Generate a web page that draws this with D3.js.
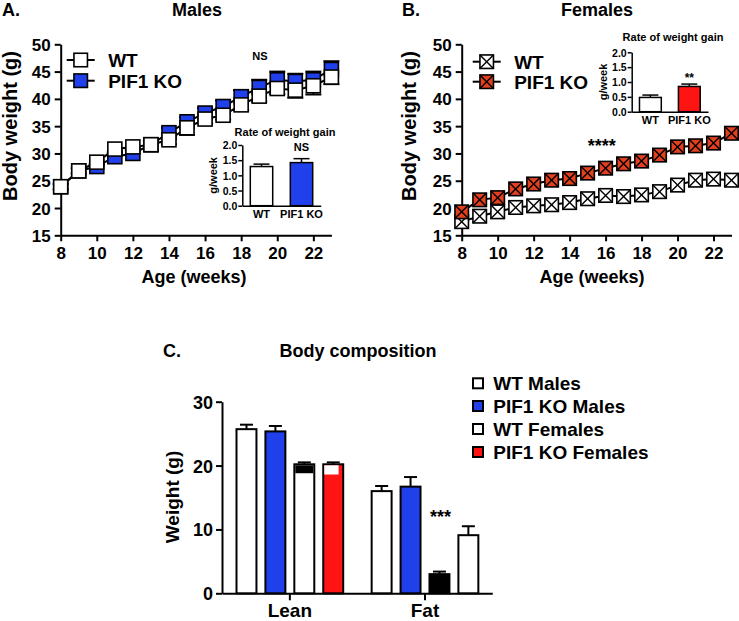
<!DOCTYPE html>
<html><head><meta charset="utf-8">
<script src="https://cdn.jsdelivr.net/npm/d3@7"></script>
<style>body{margin:0;background:#fff}svg{display:block}text{font-family:"Liberation Sans",Arial,sans-serif;font-weight:bold;fill:#000}</style>
</head><body>
<script>
// ---------- DATA ----------
const weeks = [8,9,10,11,12,13,14,15,16,17,18,19,20,21,22,23];
const maleWT     = [23.9,26.8,28.4,30.8,31.2,31.6,32.5,34.7,36.3,37.0,38.9,40.5,41.9,41.6,42.4,44.0];
const maleWTErr  = [0.5,0.5,0.5,0.5,0.6,1.2,0.8,1.3,0.8,0.8,1.0,1.0,1.0,1.4,1.6,1.3];
const maleKO     = [23.9,26.8,27.6,29.4,30.0,31.6,33.8,35.8,37.4,38.6,40.4,42.1,43.5,43.2,43.5,45.4];
const maleKOErr  = [0.5,0.5,0.5,0.6,0.6,0.7,0.9,0.8,0.9,1.1,1.2,1.4,1.5,1.4,1.5,1.5];
const femaleWT   = [17.5,18.5,19.3,20.1,20.4,20.6,21.0,21.7,22.3,22.1,22.4,23.0,24.2,25.1,25.3,25.1];
const femaleKO   = [19.3,21.5,21.9,23.5,24.4,25.1,25.4,26.4,27.3,28.1,28.6,29.7,31.2,31.4,31.9,33.7];
const xTicks = [8,10,12,14,16,18,20,22];
const yTicks = [15,20,25,30,35,40,45,50];

const rateGroups = ["WT","PIF1 KO"];
const maleRate = [1.29,1.42];
const maleRateErr = [0.08,0.13];
const femaleRate = [0.48,0.85];
const femaleRateErr = [0.08,0.08];
const rateTicks = [0,0.5,1,1.5,2];

const compGroups = ["Lean","Fat"];
const compSeries = ["WT Males","PIF1 KO Males","WT Females","PIF1 KO Females"];
const leanVals = [25.7,25.35,20.2,20.2];
const leanErr  = [0.7,0.85,0.3,0.3];
const leanCapLow = [null,null,18.8,18.6];
const fatVals  = [16.0,16.7,3.0,9.1];
const fatErr   = [0.8,1.5,0.4,1.4];
const compTicks = [0,10,20,30];

// ---------- STYLE ----------
const BLUE = "#1f40ea", RED_M = "#e2401e", RED = "#ff1414";

const svg = d3.select("body").append("svg").attr("width",739).attr("height",621);

function txt(x,y,s,size,anchor="middle",rot=0){
  const t = svg.append("text").attr("font-size",size).attr("text-anchor",anchor).text(s);
  if(rot) t.attr("transform",`translate(${x},${y}) rotate(${rot})`);
  else t.attr("x",x).attr("y",y);
  return t;
}
function styleAxis(g,fs,sw){
  g.selectAll("path,line").attr("stroke","#000").attr("stroke-width",sw);
  g.selectAll("text").attr("font-size",fs).attr("fill","#000").style("font-family",'"Liberation Sans",Arial,sans-serif').style("font-weight","bold");
}
function marker(g,cx,cy,s,fill,cross){
  g.append("rect").attr("x",cx-s/2).attr("y",cy-s/2).attr("width",s).attr("height",s)
   .attr("fill",fill).attr("stroke","#000").attr("stroke-width",1.6);
  if(cross){
    g.append("line").attr("x1",cx-s/2).attr("y1",cy-s/2).attr("x2",cx+s/2).attr("y2",cy+s/2).attr("stroke","#000").attr("stroke-width",1.4);
    g.append("line").attr("x1",cx-s/2).attr("y1",cy+s/2).attr("x2",cx+s/2).attr("y2",cy-s/2).attr("stroke","#000").attr("stroke-width",1.4);
  }
}

// ---------- generic line panel ----------
function linePanel(opt){
  const x = d3.scaleLinear().domain([8,23]).range(opt.xr);
  const y = d3.scaleLinear().domain([15,50]).range([235.3,44.3]);
  const gx = svg.append("g").attr("transform",`translate(0,${y(15)})`)
    .call(d3.axisBottom(x).tickValues(xTicks).tickSize(6).tickPadding(6).tickSizeOuter(0));
  styleAxis(gx,17,2);
  const gy = svg.append("g").attr("transform",`translate(${x(8)},0)`)
    .call(d3.axisLeft(y).tickValues(yTicks).tickSize(6).tickPadding(4).tickSizeOuter(0));
  styleAxis(gy,17,2);
  gy.selectAll("text").attr("dy","0.36em");
  const line = d3.line().x((d,i)=>x(weeks[i])).y(d=>y(d));
  opt.series.forEach(s=>{
    const g = svg.append("g");
    if(s.err){
      weeks.forEach((w,i)=>{
        const y0=y(s.vals[i]), y1=y(s.vals[i]+s.dir*s.err[i]);
        g.append("line").attr("x1",x(w)).attr("x2",x(w)).attr("y1",y0).attr("y2",y1).attr("stroke","#000").attr("stroke-width",2);
        g.append("line").attr("x1",x(w)-8).attr("x2",x(w)+8).attr("y1",y1).attr("y2",y1).attr("stroke","#000").attr("stroke-width",2);
      });
    }
    g.append("path").attr("d",line(s.vals)).attr("fill","none").attr("stroke","#000").attr("stroke-width",2);
    s.vals.forEach((v,i)=>marker(g,x(weeks[i]),y(v),opt.ms,s.fill,opt.cross));
  });
  // legend
  opt.legend.forEach((l,i)=>{
    const cy = opt.legY[i];
    const g = svg.append("g");
    g.append("line").attr("x1",opt.legX-14).attr("x2",opt.legX+14).attr("y1",cy).attr("y2",cy).attr("stroke","#000").attr("stroke-width",2);
    marker(g,opt.legX,cy,13.5,l.fill,opt.cross);
    txt(opt.legX+27.5,cy+7,l.name,19,"start");
  });
  return {x,y};
}

function inset(opt){
  const y = d3.scaleLinear().domain([0,2]).range(opt.yr);
  const x = d3.scaleBand().domain(rateGroups).range([opt.ax, opt.ax2]).paddingInner(0.44).paddingOuter(0.2);
  const gy = svg.append("g").attr("transform",`translate(${opt.ax},0)`)
    .call(d3.axisLeft(y).tickValues(rateTicks).tickFormat(d3.format(".1f")).tickSize(4).tickPadding(1).tickSizeOuter(0));
  styleAxis(gy,10.5,1.5);
  gy.selectAll("text").attr("dy","0.36em");
  const gx = svg.append("g").attr("transform",`translate(0,${opt.yr[0]})`)
    .call(d3.axisBottom(x).tickSize(0).tickPadding(5).tickSizeOuter(0));
  styleAxis(gx,11,1.5);
  rateGroups.forEach((gname,i)=>{
    const bx = x(gname), bw = x.bandwidth(), cx = bx+bw/2;
    const yt = y(opt.vals[i]), ye = y(opt.vals[i]+opt.err[i]);
    svg.append("line").attr("x1",cx).attr("x2",cx).attr("y1",yt).attr("y2",ye).attr("stroke","#000").attr("stroke-width",1.5);
    svg.append("line").attr("x1",cx-8).attr("x2",cx+8).attr("y1",ye).attr("y2",ye).attr("stroke","#000").attr("stroke-width",1.5);
    svg.append("rect").attr("x",bx).attr("y",yt).attr("width",bw).attr("height",opt.yr[0]-yt)
      .attr("fill",opt.fills[i]).attr("stroke","#000").attr("stroke-width",1.5);
  });
  txt(opt.titleX,opt.titleY,"Rate of weight gain",11);
  txt(opt.ax-25,(opt.yr[0]+opt.yr[1])/2,"g/week",11,"middle",-90);
  const kx = x("PIF1 KO")+x.bandwidth()/2;
  txt(kx, y(opt.vals[1]+opt.err[1])-opt.sigOff, opt.sig, opt.sigSize);
}

// ---------- Panel A ----------
txt(2,16,"A.",18,"start");
txt(197,16,"Males",18);
linePanel({xr:[60.7,331.4], ms:14, cross:false,
  series:[{vals:maleKO, err:maleKOErr, dir:1, fill:BLUE},{vals:maleWT, err:maleWTErr, dir:-1, fill:"#fff"}],
  legend:[{name:"WT",fill:"#fff"},{name:"PIF1 KO",fill:BLUE}], legX:80.7, legY:[60,80.7]});
txt(194,283,"Age (weeks)",18);
txt(16.5,126,"Body weight (g)",20,"middle",-90);
txt(260,60,"NS",11);
inset({yr:[205.7,145], ax:242.3, ax2:320.7, vals:maleRate, err:maleRateErr, fills:["#fff",BLUE],
  titleX:285, titleY:136, sig:"NS", sigOff:8, sigSize:11});

// ---------- Panel B ----------
txt(402,16,"B.",18,"start");
txt(597,16,"Females",18);
linePanel({xr:[461.7,731.5], ms:13.5, cross:true,
  series:[{vals:femaleWT, fill:"#fff"},{vals:femaleKO, fill:RED_M}],
  legend:[{name:"WT",fill:"#fff"},{name:"PIF1 KO",fill:RED_M}], legX:486.7, legY:[61.7,81.7]});
txt(592,283,"Age (weeks)",18);
txt(416,126,"Body weight (g)",20,"middle",-90);
txt(601.7,152,"****",18);
inset({yr:[111.7,52.3], ax:631.7, ax2:708, vals:femaleRate, err:femaleRateErr, fills:["#fff",RED],
  titleX:673, titleY:40.5, sig:"**", sigOff:2, sigSize:12});

// ---------- Panel C ----------
txt(163,356.5,"C.",18,"start");
txt(358,356.5,"Body composition",18);
const yC = d3.scaleLinear().domain([0,30]).range([593.3,401.7]);
const xC0 = d3.scaleBand().domain(compGroups).range([222,492.3]).paddingInner(0.0).paddingOuter(0.0);
const xC1 = d3.scaleBand().domain(compSeries).range([14.5,121.2]).paddingInner(0.31);
const gyC = svg.append("g").attr("transform",`translate(222,0)`)
  .call(d3.axisLeft(yC).tickValues(compTicks).tickSize(6).tickPadding(3).tickSizeOuter(0));
styleAxis(gyC,18,2);
gyC.selectAll("text").attr("dy","0.36em");
const gxC = svg.append("g").attr("transform",`translate(0,${yC(0)})`)
  .call(d3.axisBottom(xC0).tickSize(7).tickPadding(3).tickSizeOuter(0));
styleAxis(gxC,19,2);
gxC.selectAll(".tick").attr("transform",d=>`translate(${xC0(d)+xC1.range()[0]+(xC1.range()[1]-xC1.range()[0])/2},0)`);
const compFills = {Lean:["#fff",BLUE,"#fff",RED], Fat:["#fff",BLUE,"#000","#fff"]};
const capFills = ["#fff","#fff","#000","#fff"];
const capFrac = [1,1,1,0.8];
compGroups.forEach(gname=>{
  const vals = gname==="Lean"?leanVals:fatVals, errs = gname==="Lean"?leanErr:fatErr;
  compSeries.forEach((s,i)=>{
    const bx = xC0(gname)+xC1(s), bw = xC1.bandwidth(), cx = bx+bw/2;
    const yt = yC(vals[i]), ye = yC(vals[i]+errs[i]);
    svg.append("line").attr("x1",cx).attr("x2",cx).attr("y1",yt).attr("y2",ye).attr("stroke","#000").attr("stroke-width",2);
    svg.append("line").attr("x1",cx-6.5).attr("x2",cx+6.5).attr("y1",ye).attr("y2",ye).attr("stroke","#000").attr("stroke-width",2);
    svg.append("rect").attr("x",bx).attr("y",yt).attr("width",bw).attr("height",yC(0)-yt)
      .attr("fill",compFills[gname][i]).attr("stroke","#000").attr("stroke-width",2);
    if(gname==="Lean" && leanCapLow[i]!==null){
      svg.append("rect").attr("x",bx+1).attr("y",yt+1).attr("width",(bw-2)*capFrac[i]).attr("height",yC(leanCapLow[i])-yt-1)
        .attr("fill",capFills[i]);
    }
  });
});
txt(440.5,523,"***",18);
txt(179,497,"Weight (g)",19,"middle",-90);
const legC = [383.3,406,429,452];
const legFills = ["#fff",BLUE,"#fff",RED];
compSeries.forEach((s,i)=>{
  svg.append("rect").attr("x",473).attr("y",legC[i]-5).attr("width",10).attr("height",10)
    .attr("fill",legFills[i]).attr("stroke","#000").attr("stroke-width",2);
  txt(493.3,legC[i]+6.7,s,19,"start");
});
</script>
</body></html>
